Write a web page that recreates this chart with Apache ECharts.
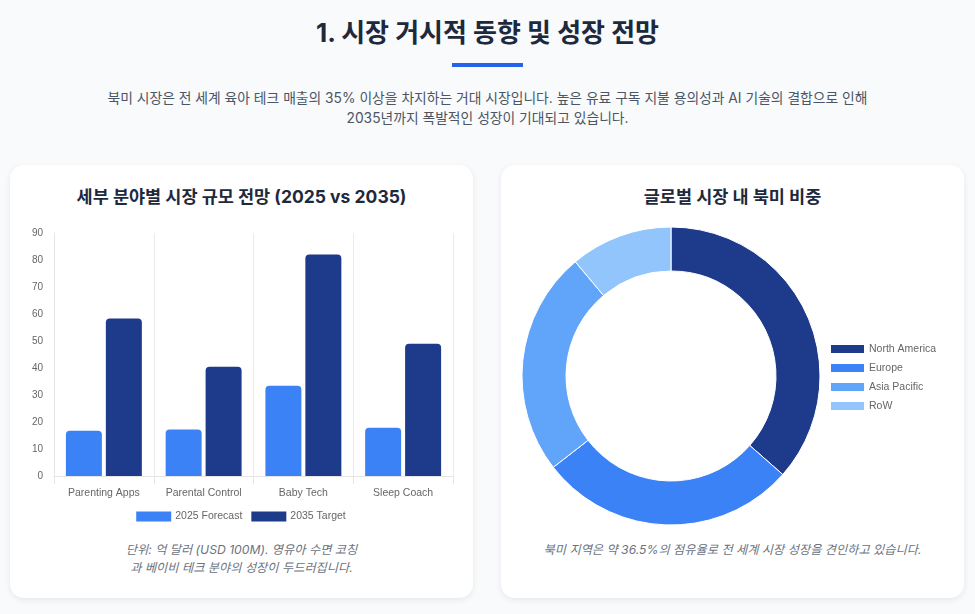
<!doctype html>
<html>
    <head>
        <meta charset="utf-8">
        <title>시장 거시적 동향 및 성장 전망</title>
        <script src="https://cdn.jsdelivr.net/npm/echarts@6/dist/echarts.min.js"></script>
        <style>
            html, body { margin: 0; padding: 0; }
            body {
                width: 975px; height: 614px; position: relative; overflow: hidden;
                background: #f8fafc;
                font-family: 'Inter', 'Noto Sans CJK KR', sans-serif;
            }
            .title {
                position: absolute; left: 0; right: 0; top: 14px;
                text-align: center; font-size: 26px; font-weight: 700; color: #1e293b;
                line-height: 38px;
            }
            .bar {
                position: absolute; left: 452px; top: 63px; width: 71px; height: 4px;
                background: #2563eb;
            }
            .lead {
                position: absolute; left: 0; right: 0; top: 88px;
                text-align: center; font-size: 13.8px; color: #4b5563; line-height: 20px;
            }
            .card {
                position: absolute; top: 165px; height: 433px; width: 463px;
                background: #fff; border-radius: 14px;
                box-shadow: 0 2px 6px rgba(15, 23, 42, 0.08);
            }
            .card-title {
                position: absolute; width: 463px; top: 184px;
                text-align: center; font-size: 17.5px; font-weight: 700; color: #1e293b;
                line-height: 26px;
            }
            .note {
                position: absolute; width: 463px; text-align: center; font-size: 12.2px;
                font-style: italic; color: #6b7280; line-height: 18px;
            }
            .chart { position: absolute; }
        </style>
    </head>
    <body>
        <div class="title">1. 시장 거시적 동향 및 성장 전망</div>
        <div class="bar"></div>
        <div class="lead">북미 시장은 전 세계 육아 테크 매출의 35% 이상을 차지하는 거대 시장입니다. 높은 유료 구독 지불 용의성과 AI 기술의 결합으로 인해<br>2035년까지 폭발적인 성장이 기대되고 있습니다.</div>

        <div class="card" style="left:10px"></div>
        <div class="card" style="left:501px"></div>

        <div class="card-title" style="left:10px">세부 분야별 시장 규모 전망 (2025 vs 2035)</div>
        <div class="card-title" style="left:501px">글로벌 시장 내 북미 비중</div>

        <div id="bar" class="chart" style="left:10px;top:222px;width:462px;height:305px"></div>
        <div id="pie" class="chart" style="left:501px;top:220px;width:463px;height:312px"></div>

        <div class="note" style="left:10px;top:541px">단위: 억 달러 (USD 100M). 영유아 수면 코칭<br>과 베이비 테크 분야의 성장이 두드러집니다.</div>
        <div class="note" style="left:501px;top:541px">북미 지역은 약 36.5%의 점유율로 전 세계 시장 성장을 견인하고 있습니다.</div>

        <script>
            var segments = ['Parenting Apps', 'Parental Control', 'Baby Tech', 'Sleep Coach'];
            var forecast2025 = [16.8, 17.2, 33.4, 17.9];
            var target2035 = [58.3, 40.5, 82, 49];

            var regions = ['North America', 'Europe', 'Asia Pacific', 'RoW'];
            var regionShare = [36.5, 28, 24.4, 11.1];
            var regionColors = ['#1e3a8a', '#3b82f6', '#60a5fa', '#93c5fd'];

            var labelFont = 'Liberation Sans, Arial, sans-serif';

            var barChart = echarts.init(document.getElementById('bar'));
            barChart.setOption({
                animation: false,
                grid: { left: 44, right: 19, top: 11, bottom: 51 },
                legend: {
                    bottom: 0,
                    itemWidth: 35,
                    itemHeight: 10,
                    itemGap: 9,
                    icon: 'rect',
                    textStyle: { fontFamily: labelFont, fontSize: 10.5, color: '#666', padding: [0, 0, 0, -1] },
                    data: ['2025 Forecast', '2035 Target']
                },
                xAxis: {
                    type: 'category',
                    data: segments,
                    axisLine: { lineStyle: { color: '#e5e5e5' } },
                    axisTick: { show: true, length: 8, lineStyle: { color: '#e5e5e5' } },
                    splitLine: {
                        show: true,
                        interval: function (i) { return i < segments.length; },
                        lineStyle: { color: '#ececec' }
                    },
                    axisLabel: { fontFamily: labelFont, fontSize: 10.5, color: '#666', margin: 12 }
                },
                yAxis: {
                    type: 'value',
                    min: 0,
                    max: 90,
                    interval: 10,
                    axisLine: { show: true, lineStyle: { color: '#e5e5e5' } },
                    axisTick: { show: false },
                    splitLine: { show: false },
                    axisLabel: { fontFamily: labelFont, fontSize: 10, color: '#666', margin: 11 }
                },
                series: [{
                    name: '2025 Forecast',
                    type: 'bar',
                    data: forecast2025,
                    barWidth: 36,
                    barGap: '11%',
                    itemStyle: { color: '#3b82f6', borderRadius: [4, 4, 0, 0] }
                }, {
                    name: '2035 Target',
                    type: 'bar',
                    data: target2035,
                    barWidth: 36,
                    itemStyle: { color: '#1e3a8a', borderRadius: [4, 4, 0, 0] }
                }]
            });

            var pieChart = echarts.init(document.getElementById('pie'));
            pieChart.setOption({
                animation: false,
                color: regionColors,
                legend: {
                    orient: 'vertical',
                    left: 323,
                    top: 118,
                    itemWidth: 35,
                    itemHeight: 10,
                    itemGap: 7,
                    icon: 'rect',
                    textStyle: { fontFamily: labelFont, fontSize: 10.5, color: '#666', padding: [0, 0, 0, -1] },
                    data: regions
                },
                series: [{
                    type: 'pie',
                    center: [170, 156],
                    radius: [105, 149],
                    startAngle: 90,
                    clockwise: true,
                    label: { show: false },
                    labelLine: { show: false },
                    itemStyle: { borderColor: '#fff', borderWidth: 1 },
                    data: regions.map(function (name, i) {
                        return { name: name, value: regionShare[i] };
                    })
                }]
            });

            window.onresize = function () {
                barChart.resize();
                pieChart.resize();
            };
        </script>
    </body>
</html>
